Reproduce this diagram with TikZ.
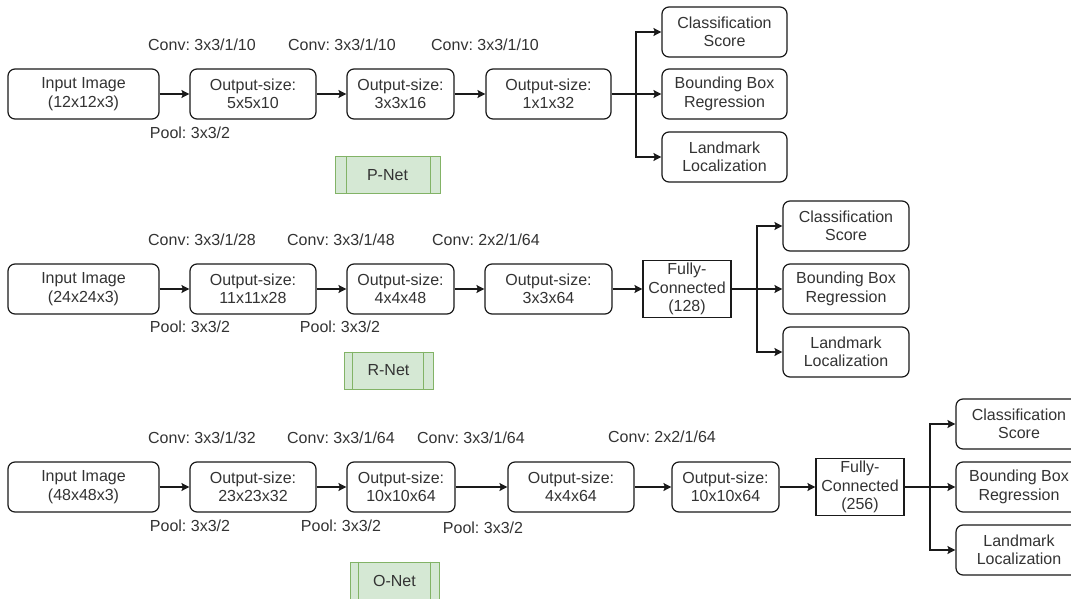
\documentclass[tikz,border=0pt]{standalone}
\usepackage{fontspec}
\setmainfont{Liberation Sans}
\usetikzlibrary{arrows.meta}
\definecolor{txt}{HTML}{333333}
\definecolor{edge}{HTML}{1A1A1A}
\definecolor{netfill}{HTML}{D5E8D4}
\definecolor{netline}{HTML}{82B366}
\frenchspacing
\begin{document}
\begin{tikzpicture}[x=1pt,y=-1pt,
  every node/.style={font=\fontsize{16}{18.5}\selectfont, text=txt},
  blk/.style={draw=edge, line width=1.2pt, rounded corners=7pt, align=center,
    inner sep=0pt, minimum height=50pt},
  fcbox/.style={draw=edge, line width=1.2pt, align=center, inner sep=0pt,
    minimum width=88pt, minimum height=57pt},
  netbox/.style={draw=netline, fill=netfill, line width=1pt, inner sep=0pt,
    minimum height=37pt},
  arr/.style={draw=edge, line width=1.3pt,
    -{Stealth[length=8pt,width=8pt,inset=1.5pt]}},
  link/.style={draw=edge, line width=1.3pt}
]
\useasboundingbox[fill=white] (0,0) rectangle (1071,599);

% ---------------- P-Net ----------------
\node[blk, minimum width=151pt] (in1) at (83.5,94) {Input Image\\(12x12x3)};
\node[blk, minimum width=126pt] (a1) at (253,94) {Output-size:\\5x5x10};
\node[blk, minimum width=107pt] (b1) at (400.5,94) {Output-size:\\3x3x16};
\node[blk, minimum width=125pt] (c1) at (548.5,94) {Output-size:\\1x1x32};
\node[blk, minimum width=125pt] (s1) at (724.5,32) {Classification\\Score};
\node[blk, minimum width=125pt] (r1) at (724.5,94) {Bounding Box\\Regression};
\node[blk, minimum width=125pt] (l1) at (724.5,157) {Landmark\\Localization};
\coordinate (br1) at (636,94);

\node (cv11) at (202,45) {Conv: 3x3/1/10};
\node (cv12) at (342,45) {Conv: 3x3/1/10};
\node (cv13) at (485,45) {Conv: 3x3/1/10};
\node (pl11) at (190,133) {Pool: 3x3/2};

\node[netbox, minimum width=105pt] (pnet) at (387.5,175) {P-Net};
\draw[netline, line width=1pt] ([xshift=12pt]pnet.north west) -- ([xshift=12pt]pnet.south west);
\draw[netline, line width=1pt] ([xshift=-10pt]pnet.north east) -- ([xshift=-10pt]pnet.south east);

\draw[arr] (in1) -- (a1);
\draw[arr] (a1) -- (b1);
\draw[arr] (b1) -- (c1);
\draw[arr] (c1.east) -- (r1.west);
\draw[arr] (br1) |- (s1.west);
\draw[arr] (br1) |- (l1.west);

% ---------------- R-Net ----------------
\node[blk, minimum width=151pt] (in2) at (83.5,289) {Input Image\\(24x24x3)};
\node[blk, minimum width=126pt] (a2) at (253,289) {Output-size:\\11x11x28};
\node[blk, minimum width=107pt] (b2) at (400.5,289) {Output-size:\\4x4x48};
\node[blk, minimum width=127pt] (c2) at (548.5,289) {Output-size:\\3x3x64};
\node[fcbox] (fc2) at (687,289) {Fully-\\Connected\\(128)};
\node[blk, minimum width=126pt] (s2) at (846,226) {Classification\\Score};
\node[blk, minimum width=126pt] (r2) at (846,289) {Bounding Box\\Regression};
\node[blk, minimum width=126pt] (l2) at (846,352) {Landmark\\Localization};
\coordinate (br2) at (757,289);

\node (cv21) at (202,240) {Conv: 3x3/1/28};
\node (cv22) at (341,240) {Conv: 3x3/1/48};
\node (cv23) at (486,240) {Conv: 2x2/1/64};
\node (pl21) at (190,327) {Pool: 3x3/2};
\node (pl22) at (340,327) {Pool: 3x3/2};

\node[netbox, minimum width=89pt] (rnet) at (388.5,370.5) {R-Net};
\draw[netline, line width=1pt] ([xshift=9pt]rnet.north west) -- ([xshift=9pt]rnet.south west);
\draw[netline, line width=1pt] ([xshift=-10pt]rnet.north east) -- ([xshift=-10pt]rnet.south east);

\draw[arr] (in2) -- (a2);
\draw[arr] (a2) -- (b2);
\draw[arr] (b2) -- (c2);
\draw[arr] (c2) -- (fc2);
\draw[arr] (fc2.east) -- (r2.west);
\draw[arr] (br2) |- (s2.west);
\draw[arr] (br2) |- (l2.west);

% ---------------- O-Net ----------------
\node[blk, minimum width=151pt] (in3) at (83.5,487) {Input Image\\(48x48x3)};
\node[blk, minimum width=126pt] (a3) at (253,487) {Output-size:\\23x23x32};
\node[blk, minimum width=108pt] (b3) at (401,487) {Output-size:\\10x10x64};
\node[blk, minimum width=126pt] (c3) at (571,487) {Output-size:\\4x4x64};
\node[blk, minimum width=107pt] (d3) at (725.5,487) {Output-size:\\10x10x64};
\node[fcbox] (fc3) at (860,487) {Fully-\\Connected\\(256)};
\node[blk, minimum width=126pt] (s3) at (1019,424) {Classification\\Score};
\node[blk, minimum width=126pt] (r3) at (1019,487) {Bounding Box\\Regression};
\node[blk, minimum width=126pt] (l3) at (1019,550) {Landmark\\Localization};
\coordinate (br3) at (930,487);

\node (cv31) at (202,438) {Conv: 3x3/1/32};
\node (cv32) at (341,438) {Conv: 3x3/1/64};
\node (cv33) at (471,438) {Conv: 3x3/1/64};
\node (cv34) at (662,437) {Conv: 2x2/1/64};
\node (pl31) at (190,526) {Pool: 3x3/2};
\node (pl32) at (341,526) {Pool: 3x3/2};
\node (pl33) at (483,528) {Pool: 3x3/2};

\node[netbox, minimum width=89pt] (onet) at (394.5,580.5) {O-Net};
\draw[netline, line width=1pt] ([xshift=9pt]onet.north west) -- ([xshift=9pt]onet.south west);
\draw[netline, line width=1pt] ([xshift=-9pt]onet.north east) -- ([xshift=-9pt]onet.south east);

\draw[arr] (in3) -- (a3);
\draw[arr] (a3) -- (b3);
\draw[arr] (b3) -- (c3);
\draw[arr] (c3) -- (d3);
\draw[arr] (d3) -- (fc3);
\draw[arr] (fc3.east) -- (r3.west);
\draw[arr] (br3) |- (s3.west);
\draw[arr] (br3) |- (l3.west);
\end{tikzpicture}
\end{document}
